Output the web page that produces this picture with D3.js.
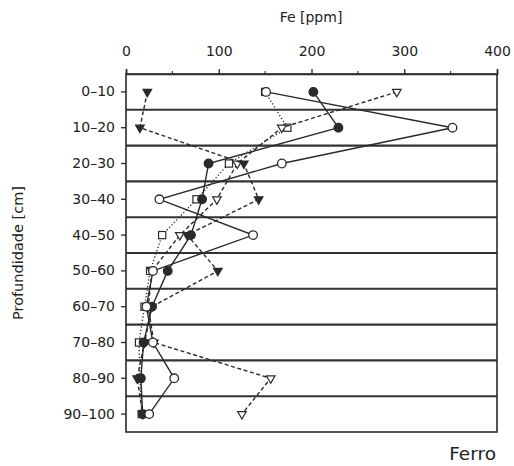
<!DOCTYPE html>
<html>
<head>
<meta charset="utf-8">
<script src="https://cdn.jsdelivr.net/npm/d3@7"></script>
<style>
  html, body { margin: 0; padding: 0; background: #fff; }
  svg { display: block; }
  text { font-family: "DejaVu Sans", "Liberation Sans", sans-serif; fill: #222; }
</style>
</head>
<body>
<svg id="chart" width="514" height="466"></svg>
<script>
// Depth intervals (cm)
const depths = ["0–10", "10–20", "20–30", "30–40", "40–50", "50–60", "60–70", "70–80", "80–90", "90–100"];

// Fe concentration (ppm) per profile
const feOpenCircle   = [151, 352, 168, 36, 137, 29, 22, 29, 52, 25];
const feFilledCircle = [202, 229, 89, 82, 70, 45, 28, 19, 16, 18];
const feOpenSquare   = [150, 174, 111, 76, 39, 26, 20, 14, 15, 17];
const feOpenTri      = [292, 168, 120, 98, 58, 28, 24, 30, 156, 125];
const feFilledTri    = [23, 15, 127, 143, 66, 99, 28, 20, 12, 18];

const xTicks = [0, 100, 200, 300, 400];
const xMinorTicks = [50, 150, 250, 350];

const ink = "#2a2a2a";
const svg = d3.select("#chart");

const x = d3.scaleLinear().domain([0, 400]).range([126, 497]);
const y = d3.scaleBand().domain(depths).range([74, 432]).paddingInner(0).paddingOuter(0);
const yc = d => y(d) + y.bandwidth() / 2;

// horizontal separators between depth intervals
svg.append("g").selectAll("line")
  .data(depths.slice(1))
  .join("line")
  .attr("x1", x(0)).attr("x2", x(400))
  .attr("y1", d => y(d)).attr("y2", d => y(d))
  .attr("stroke", "#333").attr("stroke-width", 2.1);

// frame
svg.append("rect")
  .attr("x", x(0)).attr("y", 74)
  .attr("width", x(400) - x(0)).attr("height", 432 - 74)
  .attr("fill", "none").attr("stroke", ink).attr("stroke-width", 1.6);

// top axis
const topAxis = svg.append("g").attr("transform", "translate(0,74)");
topAxis.call(d3.axisTop(x).tickValues(xTicks).tickSize(5).tickFormat(d3.format("d")))
  .call(g => g.select(".domain").attr("stroke", ink).attr("stroke-width", 1.6))
  .call(g => g.selectAll(".tick line").attr("stroke", ink).attr("stroke-width", 1.3))
  .call(g => g.selectAll(".tick text").attr("font-size", 14).attr("dy", "-0.75em").attr("fill", "#222")
    .style("font-family", "'DejaVu Sans', sans-serif"));
topAxis.append("g").selectAll("line")
  .data(xMinorTicks)
  .join("line")
  .attr("x1", d => x(d)).attr("x2", d => x(d))
  .attr("y1", 0).attr("y2", -3)
  .attr("stroke", ink).attr("stroke-width", 1.1);

// left axis
svg.append("g").attr("transform", `translate(${x(0)},0)`)
  .call(d3.axisLeft(y).tickSize(5).tickPadding(6))
  .call(g => g.select(".domain").remove())
  .call(g => g.selectAll(".tick line").attr("stroke", ink).attr("stroke-width", 1.3))
  .call(g => g.selectAll(".tick text").attr("font-size", 14).attr("fill", "#222")
    .style("font-family", "'DejaVu Sans', sans-serif"));

// titles
svg.append("text").attr("x", 311).attr("y", 22).attr("text-anchor", "middle")
  .attr("font-size", 14).text("Fe [ppm]");
svg.append("text").attr("transform", "translate(23,253) rotate(-90)")
  .attr("text-anchor", "middle").attr("font-size", 14.5).text("Profundidade [cm]");
svg.append("text").attr("x", 496).attr("y", 460).attr("text-anchor", "end")
  .attr("font-size", 18.5).text("Ferro");

// profiles
const series = [
  { values: feOpenSquare,   dash: "1.2,2.2", marker: "square",   fill: "#fff" },
  { values: feOpenTri,      dash: "4,2.6",   marker: "triangle", fill: "#fff" },
  { values: feFilledTri,    dash: "4,2.6",   marker: "triangle", fill: ink },
  { values: feFilledCircle, dash: null,      marker: "circle",   fill: ink },
  { values: feOpenCircle,   dash: null,      marker: "circle",   fill: "#fff" }
];

const line = d3.line().x(d => x(d.v)).y(d => yc(d.depth));

series.forEach(s => {
  const pts = s.values.map((v, i) => ({ v, depth: depths[i] }));
  svg.append("path")
    .datum(pts)
    .attr("d", line)
    .attr("fill", "none")
    .attr("stroke", ink)
    .attr("stroke-width", 1.4)
    .attr("stroke-dasharray", s.dash);

  const g = svg.append("g");
  if (s.marker === "circle") {
    g.selectAll("circle").data(pts).join("circle")
      .attr("cx", d => x(d.v)).attr("cy", d => yc(d.depth)).attr("r", 4.3)
      .attr("fill", s.fill).attr("stroke", ink).attr("stroke-width", 1.3);
  } else if (s.marker === "square") {
    g.selectAll("rect").data(pts).join("rect")
      .attr("x", d => x(d.v) - 3.6).attr("y", d => yc(d.depth) - 3.6)
      .attr("width", 7.2).attr("height", 7.2)
      .attr("fill", s.fill).attr("stroke", ink).attr("stroke-width", 1.2);
  } else {
    const tri = d3.symbol().type(d3.symbolTriangle).size(32);
    g.selectAll("path").data(pts).join("path")
      .attr("d", tri)
      .attr("transform", d => `translate(${x(d.v)},${yc(d.depth)}) rotate(180)`)
      .attr("fill", s.fill).attr("stroke", ink).attr("stroke-width", 1.2);
  }
});
</script>
</body>
</html>
